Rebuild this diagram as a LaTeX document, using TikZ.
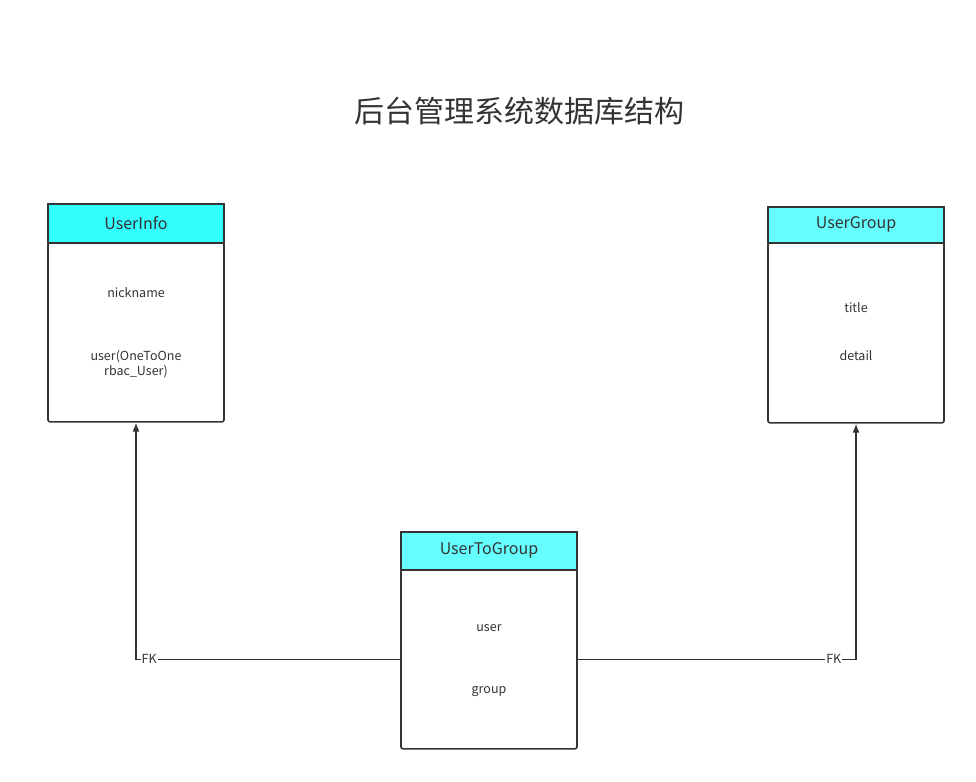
\documentclass[tikz,border=0pt]{standalone}
\usepackage{fontspec}
\setmainfont{Noto Sans CJK SC}
\usepackage{xcolor}
\usetikzlibrary{arrows.meta,positioning,calc}
\definecolor{Ink}{HTML}{333333}
\definecolor{Cyan}{HTML}{33FFFF}
\definecolor{Aqua}{HTML}{66FFFF}
\tikzset{
  head/.style={draw=Ink, line width=1.6pt, minimum width=176pt, inner sep=0pt,
    font=\fontsize{16}{19}\selectfont, text=Ink, anchor=north},
  body/.style={draw=Ink, line width=1.6pt, rounded corners=2pt, minimum width=176pt,
    inner sep=0pt, anchor=north, fill=white},
  field/.style={font=\fontsize{12.5}{15}\selectfont, text=Ink, align=center},
  fk/.style={draw=Ink, line width=1.5pt, -{Latex[length=9pt,width=7pt]}},
  fklabel/.style={fill=white, inner sep=1pt, font=\fontsize{12.5}{15}\selectfont, text=Ink}
}
\newcommand{\entity}[7]{
  % #1 name, #2 x, #3 y, #4 colour, #5 title, #6 header height, #7 body height
  \node[body, minimum height=#7pt] (#1body) at (#2,#3+#6) {};
  \node[head, fill=#4, minimum height=#6pt] (#1) at (#2,#3) {#5};
}
\begin{document}
\begin{tikzpicture}[x=1pt,y=-1pt]
        \useasboundingbox (0,0) rectangle (976,781);
        \node[text=Ink, font=\fontsize{30}{35}\selectfont] (title) at (519,111) {后台管理系统数据库结构};
        \entity{uinfo}{136}{203}{Cyan}{UserInfo}{39}{179}
        \entity{ugroup}{856}{206}{Aqua}{UserGroup}{36}{180}
        \entity{utg}{489}{531}{Aqua}{UserToGroup}{38}{179}
        % fields
        \node[field] (nick) at (136,293) {nickname};
        \node[field] (uuser) at (136,364) {user(OneToOne\\rbac\_User)};
        \node[field] (gtitle) at (856,308) {title};
        \node[field] (gdetail) at (856,356) {detail};
        \node[field] (tuser) at (489,628) {user};
        \node[field] (tgroup) at (489,692) {group};
        % foreign keys
        \draw[fk] (utgbody.west) -- node[fklabel, pos=0.95] {FK} (uinfobody.south |- utgbody.west) -- (uinfobody.south);
        \draw[fk] (utgbody.east) -- node[fklabel, pos=0.92] {FK} (ugroupbody.south |- utgbody.east) -- (ugroupbody.south);
      \end{tikzpicture}
\end{document}
